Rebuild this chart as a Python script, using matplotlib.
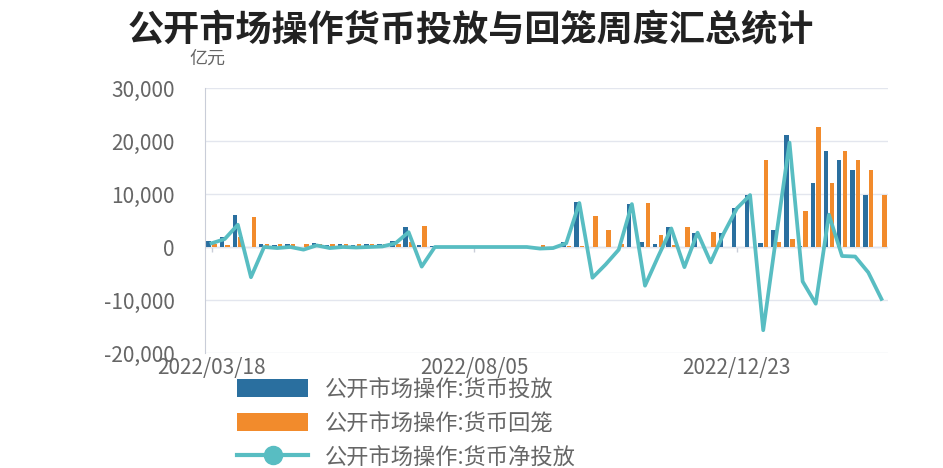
import matplotlib
matplotlib.use("Agg")
import matplotlib.pyplot as plt
from matplotlib.patches import Patch
from matplotlib.lines import Line2D
from matplotlib.ticker import FuncFormatter, MultipleLocator
import numpy as np
import pandas as pd

plt.rcParams['font.family'] = ['Noto Sans CJK SC', 'DejaVu Sans']

title = "公开市场操作货币投放与回笼周度汇总统计"
unit = "亿元"
series_names = ["公开市场操作:货币投放", "公开市场操作:货币回笼", "公开市场操作:货币净投放"]

dates = pd.date_range("2022-03-18", periods=52, freq="7D").strftime("%Y/%m/%d").tolist()

injection = [1200, 1800, 6000, 0, 500, 300, 500, 0, 800, 300,
             500, 400, 500, 600, 1200, 3800, 300, 100, 100, 100,
             100, 100, 100, 100, 100, 0, 0, 900, 8500, 0,
             0, 0, 8100, 1000, 500, 3800, 0, 2700, 0, 2600,
             7300, 9800, 700, 3200, 21200, 200, 12000, 18100, 16400, 14600,
             9800, 0]
withdrawal = [500, 300, 1800, 5700, 500, 500, 500, 500, 500, 500,
              500, 500, 500, 500, 500, 1000, 4000, 100, 100, 100,
              100, 100, 100, 100, 100, 300, 200, 200, 200, 5800,
              3300, 500, 0, 8300, 2300, 300, 3800, 0, 2900, 0,
              0, 0, 16400, 1000, 1500, 6700, 22700, 12000, 18100, 16400,
              14600, 9800]
net = [700, 1500, 4200, -5700, 0, -200, 0, -500, 300, -200,
       0, -100, 0, 100, 700, 2800, -3700, 0, 0, 0,
       0, 0, 0, 0, 0, -300, -200, 700, 8300, -5800,
       -3300, -500, 8100, -7300, -1800, 3500, -3800, 2700, -2900, 2600,
       7300, 9800, -15700, 2200, 19700, -6500, -10700, 6100, -1700, -1800,
       -4800, -9800]

c_blue = "#2a6f9f"
c_orange = "#f28b2c"
c_line = "#58bdc2"
c_text = "#666666"
c_grid = "#e3e6ee"

W, H = 943, 468
fig = plt.figure(figsize=(W / 100, H / 100), dpi=100)
ax = fig.add_axes([205 / W, 1 - 353 / H, (888 - 205) / W, (353 - 88) / H])

x = np.arange(len(dates))
bw = 0.34
ax.bar(x - 0.22, injection, width=bw, color=c_blue, zorder=2)
ax.bar(x + 0.22, withdrawal, width=bw, color=c_orange, zorder=2)
ax.plot(x, net, color=c_line, lw=2.7, zorder=3)

ax.set_xlim(-0.5, len(dates) - 0.5)
ax.set_ylim(-20000, 30000)
ax.yaxis.set_major_locator(MultipleLocator(10000))
ax.yaxis.set_major_formatter(FuncFormatter(lambda v, p: f"{int(v):,}"))
ax.grid(axis='y', color=c_grid, lw=1, zorder=0)
ax.axhline(0, color="#d5d9e2", lw=1, zorder=1)

tick_idx = [0, 20, 40]
ax.set_xticks(tick_idx)
ax.set_xticklabels([dates[i] for i in tick_idx])
ax.vlines(tick_idx, -900, 0, color="#c9cdd8", lw=1, zorder=1)

for s in ['top', 'right', 'bottom']:
    ax.spines[s].set_visible(False)
ax.spines['left'].set_color("#c9cdd8")
ax.tick_params(axis='y', length=0, pad=22, labelsize=15, labelcolor=c_text)
ax.tick_params(axis='x', length=0, pad=3, labelsize=15, labelcolor=c_text)

fig.text(471 / W, 1 - 30 / H, title, ha='center', va='center', fontsize=26,
         fontweight='bold', color="#222222")
fig.text(207 / W, 1 - 59 / H, unit, ha='center', va='center', fontsize=13, color=c_text)

handles = [Patch(facecolor=c_blue, edgecolor='none'),
           Patch(facecolor=c_orange, edgecolor='none'),
           Line2D([], [], color=c_line, lw=3, marker='o', markersize=13)]
fig.legend(handles, series_names, loc='upper left',
           bbox_to_anchor=(237 / W, 1 - 378 / H), frameon=False,
           fontsize=16, labelcolor=c_text, handlelength=3.2, handleheight=0.85,
           labelspacing=0.48, handletextpad=0.75, borderaxespad=0, borderpad=0)

fig.savefig("out.png", dpi=100)
